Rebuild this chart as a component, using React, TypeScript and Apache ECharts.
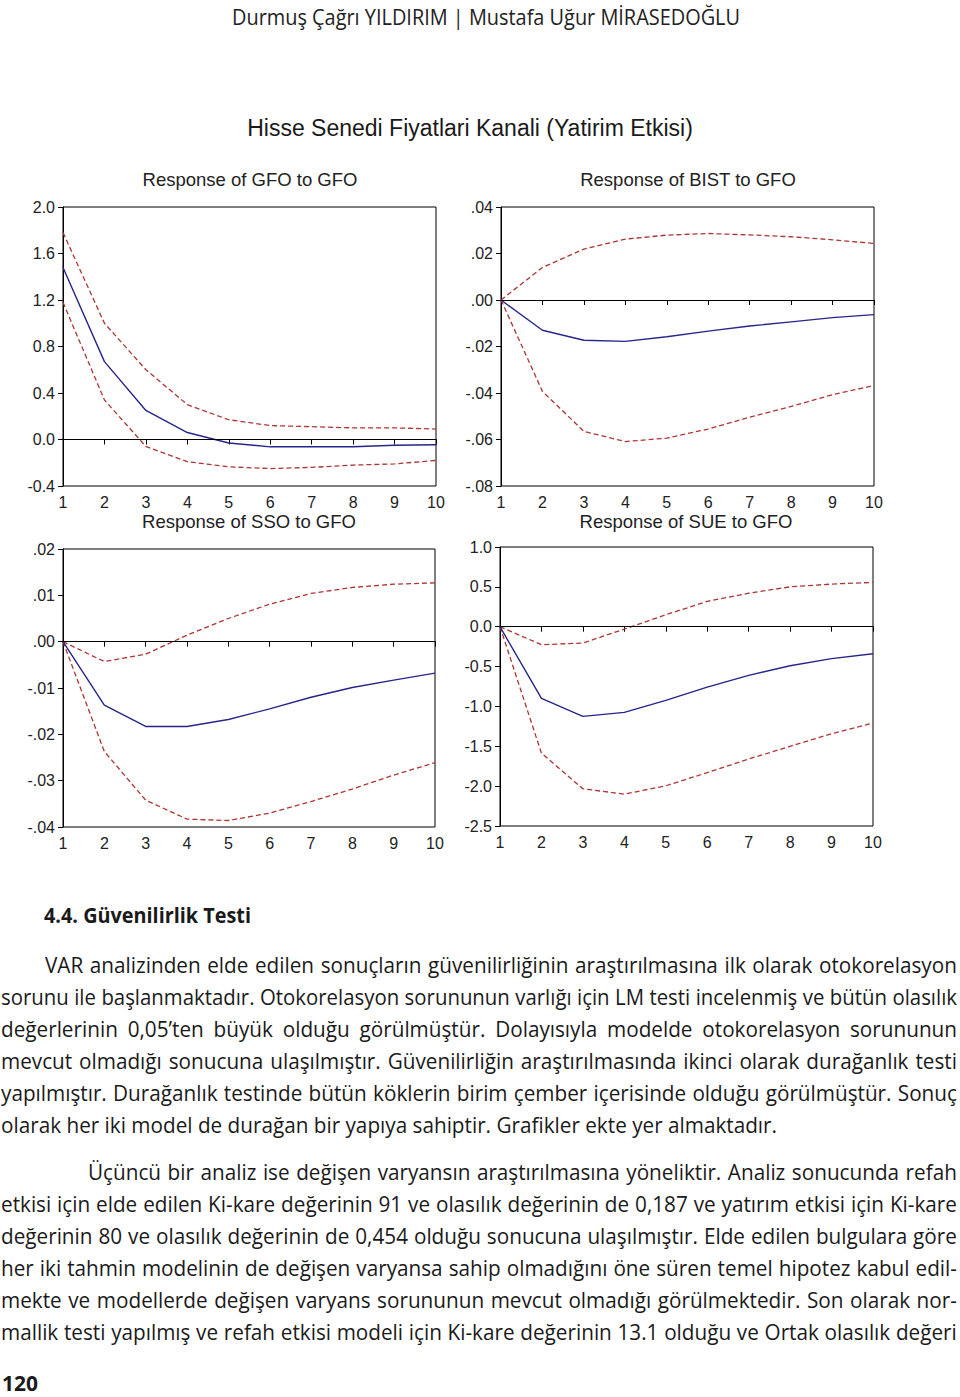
import React, { useEffect, useRef } from "react";
import * as echarts from "echarts";

// ---------- data ----------
const periods = ["1", "2", "3", "4", "5", "6", "7", "8", "9", "10"];

const gfoResp = [1.48, 0.67, 0.25, 0.06, -0.03, -0.063, -0.063, -0.063, -0.05, -0.045];
const gfoUpper = [1.78, 1.0, 0.6, 0.3, 0.17, 0.12, 0.11, 0.1, 0.1, 0.09];
const gfoLower = [1.18, 0.34, -0.06, -0.19, -0.235, -0.25, -0.24, -0.22, -0.21, -0.18];

const bistResp = [0, -0.013, -0.0173, -0.0178, -0.0158, -0.0134, -0.0112, -0.0094, -0.0076, -0.0063];
const bistUpper = [0, 0.014, 0.0219, 0.0262, 0.0279, 0.0286, 0.028, 0.0272, 0.0259, 0.0243];
const bistLower = [0, -0.0393, -0.0565, -0.0609, -0.0594, -0.0555, -0.0504, -0.0458, -0.0407, -0.0368];

const ssoResp = [0, -0.0137, -0.0183, -0.0183, -0.0168, -0.0145, -0.012, -0.0099, -0.0083, -0.0068];
const ssoUpper = [0, -0.0043, -0.0027, 0.0014, 0.005, 0.0081, 0.0104, 0.0117, 0.0124, 0.0127];
const ssoLower = [0, -0.0237, -0.0342, -0.0383, -0.0386, -0.037, -0.0345, -0.0318, -0.0288, -0.0261];

const sueResp = [0, -0.9, -1.125, -1.075, -0.925, -0.757, -0.61, -0.49, -0.4, -0.34];
const sueUpper = [0, -0.226, -0.205, -0.03, 0.15, 0.318, 0.42, 0.5, 0.535, 0.556];
const sueLower = [0, -1.586, -2.033, -2.1, -1.996, -1.83, -1.66, -1.5, -1.343, -1.21];

const panelTitles = [
  "Response of GFO to GFO",
  "Response of BIST to GFO",
  "Response of SSO to GFO",
  "Response of SUE to GFO",
];
const mainTitle = "Hisse Senedi Fiyatlari Kanali (Yatirim Etkisi)";

const headerText = "Durmuş Çağrı YILDIRIM | Mustafa Uğur MİRASEDOĞLU";
const headingText = "4.4. Güvenilirlik Testi";
const para1 = [
  "VAR analizinden elde edilen sonuçların güvenilirliğinin araştırılmasına ilk olarak otokorelasyon",
  "sorunu ile başlanmaktadır. Otokorelasyon sorununun varlığı için LM testi incelenmiş ve bütün olasılık",
  "değerlerinin 0,05’ten büyük olduğu görülmüştür. Dolayısıyla modelde otokorelasyon sorununun",
  "mevcut olmadığı sonucuna ulaşılmıştır. Güvenilirliğin araştırılmasında ikinci olarak durağanlık testi",
  "yapılmıştır. Durağanlık testinde bütün köklerin birim çember içerisinde olduğu görülmüştür. Sonuç",
  "olarak her iki model de durağan bir yapıya sahiptir. Grafikler ekte yer almaktadır.",
];
const para2 = [
  "Üçüncü bir analiz ise değişen varyansın araştırılmasına yöneliktir. Analiz sonucunda refah",
  "etkisi için elde edilen Ki-kare değerinin 91 ve olasılık değerinin de 0,187 ve yatırım etkisi için Ki-kare",
  "değerinin 80 ve olasılık değerinin de 0,454 olduğu sonucuna ulaşılmıştır. Elde edilen bulgulara göre",
  "her iki tahmin modelinin de değişen varyansa sahip olmadığını öne süren temel hipotez kabul edil-",
  "mekte ve modellerde değişen varyans sorununun mevcut olmadığı görülmektedir. Son olarak nor-",
  "mallik testi yapılmış ve refah etkisi modeli için Ki-kare değerinin 13.1 olduğu ve Ortak olasılık değeri",
];
const pageNumber = "120";

// ---------- helpers ----------
const CHART_FONT = '"Liberation Sans", Arial, sans-serif';
const BODY_FONT = '"Open Sans", "Noto Sans", sans-serif';
const BLUE = "#26268a";
const RED = "#b03434";

const fmtDec1 = (v: number) => (Math.abs(v) < 1e-9 ? "0.0" : v.toFixed(1));
const fmtEv2 = (v: number) => {
  if (Math.abs(v) < 1e-9) return ".00";
  return v.toFixed(2).replace("0.", ".");
};

let measureCtx: CanvasRenderingContext2D | null = null;
function measure(text: string, size: number, weight: number) {
  if (!measureCtx) measureCtx = document.createElement("canvas").getContext("2d");
  measureCtx!.font = `${weight} ${size}px "Open Sans"`;
  return measureCtx!.measureText(text).width;
}

type LineProps = {
  text: string;
  x: number;
  right: number;
  baseline: number;
  size: number;
  weight: number;
  mode: "justify" | "fit" | "scale";
  scale?: number;
  color?: string;
  lineH?: number;
};

function TextLine({ text, x, right, baseline, size, weight, mode, scale = 1, color = "#1a1a1a", lineH = 32 }: LineProps) {
  const nat = measure(text, size, weight);
  const target = right - x;
  let s = scale;
  if (mode === "fit") s = target / nat;
  if (mode === "justify") s = Math.min(scale, target / (nat + 2));
  const top = baseline - (lineH - 1.362 * size) / 2 - 1.069 * size;
  const words = text.split(" ");
  const style: React.CSSProperties = {
    position: "absolute",
    left: x,
    top,
    height: lineH,
    lineHeight: lineH + "px",
    fontSize: size,
    fontWeight: weight,
    fontFamily: BODY_FONT,
    color,
    whiteSpace: "nowrap",
    transform: `scaleX(${s})`,
    transformOrigin: "0 0",
  };
  if (mode === "justify") {
    style.width = target / s;
    style.display = "flex";
    style.justifyContent = "space-between";
    return (
      <div style={style}>
        {words.map((w, i) => (
          <span key={i}>{w}</span>
        ))}
      </div>
    );
  }
  return <div style={style}>{text}</div>;
}

// ---------- chart ----------
function buildOption() {
  const panels = [
    { grid: { left: 63, top: 207, width: 373, height: 279 }, min: -0.4, max: 2.0, interval: 0.4, fmt: fmtDec1, resp: gfoResp, up: gfoUpper, lo: gfoLower },
    { grid: { left: 501, top: 207, width: 373, height: 279 }, min: -0.08, max: 0.04, interval: 0.02, fmt: fmtEv2, resp: bistResp, up: bistUpper, lo: bistLower },
    { grid: { left: 63, top: 549, width: 372, height: 278 }, min: -0.04, max: 0.02, interval: 0.01, fmt: fmtEv2, resp: ssoResp, up: ssoUpper, lo: ssoLower },
    { grid: { left: 500, top: 547, width: 373, height: 279 }, min: -2.5, max: 1.0, interval: 0.5, fmt: fmtDec1, resp: sueResp, up: sueUpper, lo: sueLower },
  ];
  const titlePos = [
    [250, 179],
    [688, 179],
    [249, 521],
    [686, 521],
  ];

  const grids: any[] = [];
  const xAxes: any[] = [];
  const yAxes: any[] = [];
  const series: any[] = [];

  panels.forEach((p, i) => {
    grids.push({ ...p.grid, show: true, borderColor: "#000", borderWidth: 1, backgroundColor: "transparent" });
    xAxes.push({
      type: "category",
      gridIndex: i,
      data: periods,
      boundaryGap: false,
      axisLine: { lineStyle: { color: "#000", width: 1 } },
      axisTick: { show: true, inside: false, length: 5, alignWithLabel: true, lineStyle: { color: "#000" } },
      axisLabel: { color: "#222", fontSize: 16, fontFamily: CHART_FONT, margin: 8, interval: 0 },
      splitLine: { show: false },
    });
    yAxes.push({
      type: "value",
      gridIndex: i,
      min: p.min,
      max: p.max,
      interval: p.interval,
      axisLine: { show: true, lineStyle: { color: "#000", width: 1 } },
      axisTick: { show: true, inside: false, length: 5, lineStyle: { color: "#000" } },
      axisLabel: { color: "#222", fontSize: 16, fontFamily: CHART_FONT, margin: 8, formatter: p.fmt },
      splitLine: { show: false },
    });
    const dashed = { color: RED, width: 1.3, type: [5, 3] };
    series.push({
      type: "line",
      xAxisIndex: i,
      yAxisIndex: i,
      data: p.up,
      symbol: "none",
      lineStyle: dashed,
      silent: true,
    });
    series.push({
      type: "line",
      xAxisIndex: i,
      yAxisIndex: i,
      data: p.lo,
      symbol: "none",
      lineStyle: dashed,
      silent: true,
    });
    series.push({
      type: "line",
      xAxisIndex: i,
      yAxisIndex: i,
      data: p.resp,
      symbol: "none",
      lineStyle: { color: BLUE, width: 1.4 },
      silent: true,
      z: 3,
      markLine: {
        silent: true,
        symbol: ["none", "none"],
        label: { show: false },
        lineStyle: { color: "#000", type: "solid", width: 1 },
        data: [{ yAxis: 0 }],
      },
    });
  });

  const graphic: any[] = [
    {
      type: "text",
      x: 470,
      y: 128,
      style: { text: mainTitle, fontSize: 23, fontFamily: CHART_FONT, fill: "#1a1a1a", align: "center", verticalAlign: "middle" },
    },
    ...panelTitles.map((t, i) => ({
      type: "text",
      x: titlePos[i][0],
      y: titlePos[i][1],
      style: { text: t, fontSize: 18.5, fontFamily: CHART_FONT, fill: "#222", align: "center", verticalAlign: "middle" },
    })),
  ];

  return {
    animation: false,
    backgroundColor: "#fff",
    textStyle: { fontFamily: CHART_FONT },
    grid: grids,
    xAxis: xAxes,
    yAxis: yAxes,
    series,
    graphic,
  };
}

function Chart() {
  const ref = useRef<HTMLDivElement>(null);
  useEffect(() => {
    if (!ref.current) return;
    const chart = echarts.init(ref.current, undefined, { renderer: "svg" });
    chart.setOption(buildOption() as any);
    return () => chart.dispose();
  }, []);
  return <div ref={ref} style={{ position: "absolute", left: 0, top: 0, width: 960, height: 870 }} />;
}

export default function App() {
  const bodySize = 21;
  const bodyScale = 776 / measure(para1[para1.length - 1], bodySize, 400);
  const p1Base = 973;
  const p2Base = 1180;
  return (
    <div style={{ position: "absolute", left: 0, top: 0, width: 960, height: 1397, background: "#fff", overflow: "hidden" }}>
      <Chart />
      <TextLine text={headerText} x={232} right={740} baseline={25} size={21} weight={400} mode="fit" color="#222" />
      <TextLine text={headingText} x={44} right={251} baseline={923} size={21} weight={700} mode="fit" />
      {para1.map((t, i) => (
        <TextLine
          key={"p1" + i}
          text={t}
          x={i === 0 ? 45 : 1}
          right={957}
          baseline={p1Base + 32 * i}
          size={bodySize}
          weight={400}
          mode={i === para1.length - 1 ? "scale" : "justify"}
          scale={bodyScale}
        />
      ))}
      {para2.map((t, i) => (
        <TextLine
          key={"p2" + i}
          text={t}
          x={i === 0 ? 88 : 1}
          right={957}
          baseline={p2Base + 32 * i}
          size={bodySize}
          weight={400}
          mode="justify"
          scale={bodyScale}
        />
      ))}
      <TextLine text={pageNumber} x={2} right={38} baseline={1391} size={21} weight={700} mode="fit" lineH={24} />
    </div>
  );
}
